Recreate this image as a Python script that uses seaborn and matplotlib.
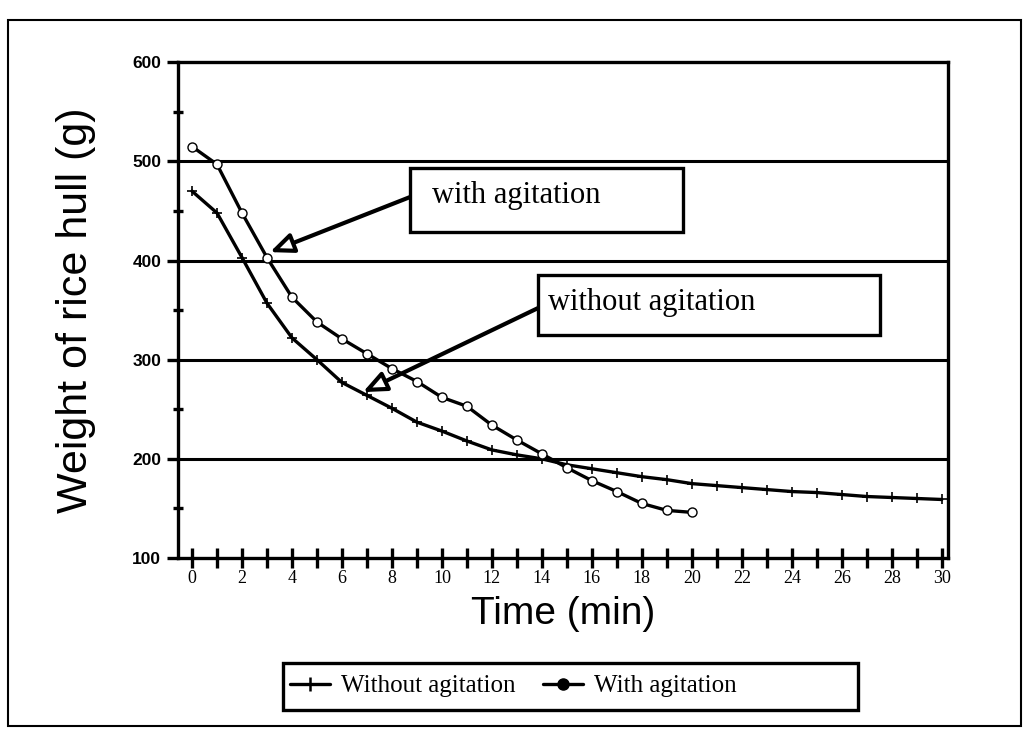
import numpy as np
import pandas as pd
import seaborn as sns
import matplotlib.pyplot as plt
from matplotlib.lines import Line2D
from matplotlib.patches import Rectangle

# values
time_without = list(range(0, 31))
weight_without = [470, 448, 403, 357, 322, 300, 277, 264, 251, 237, 228, 218,
                  209, 204, 200, 194, 190, 186, 182, 179, 175, 173, 171, 169,
                  167, 166, 164, 162, 161, 160, 159]
time_with = list(range(0, 21))
weight_with = [515, 497, 448, 403, 363, 338, 321, 306, 291, 278, 262, 253,
               234, 219, 205, 191, 178, 167, 155, 148, 146]
series_names = ["Without agitation", "With agitation"]
x_ticks = list(range(0, 31))
y_ticks = [100, 200, 300, 400, 500, 600]

sns.set_style("white")
plt.rcParams.update({"text.color": "black", "axes.labelcolor": "black",
                     "xtick.color": "black", "ytick.color": "black"})
fig = plt.figure(figsize=(10.29, 7.29), dpi=100)
ax = fig.add_axes([0.173, 0.2346, 0.748, 0.680])

for ylev in [200, 300, 400, 500]:
    ax.axhline(ylev, color="black", lw=2.2, zorder=1)

sns.lineplot(x=time_without, y=weight_without, color="black", marker="+",
             lw=2.4, markersize=7, markeredgewidth=1.2, markeredgecolor="black",
             ax=ax, zorder=3)
sns.lineplot(x=time_with, y=weight_with, color="black", marker="o",
             lw=2.4, markersize=6.5, markeredgewidth=1.0, markerfacecolor="white",
             markeredgecolor="black", ax=ax, zorder=3)

ax.set_xlim(-0.56, 30.24)
ax.set_ylim(100, 600)
for s in ax.spines.values():
    s.set_color("black")
    s.set_linewidth(2.4)

ax.set_xticks(x_ticks)
ax.set_xticklabels([str(t) if t % 2 == 0 else "" for t in x_ticks],
                   family="Liberation Serif", fontsize=13)
ax.set_yticks(y_ticks)
ax.set_yticklabels([str(t) for t in y_ticks], family="Liberation Sans",
                   fontsize=12.5, fontweight="bold")
ax.set_yticks([150, 250, 350, 450, 550], minor=True)
ax.tick_params(axis="x", which="major", direction="inout", length=14, width=2.4,
               colors="black", pad=2, bottom=True)
ax.tick_params(axis="y", which="major", direction="out", length=8, width=2.4,
               colors="black", pad=4, left=True)
ax.tick_params(axis="y", which="minor", direction="inout", length=7, width=2.4,
               colors="black", left=True)

ax.set_xlabel("Time (min)", family="Liberation Sans", fontsize=28, labelpad=6)
ax.set_ylabel("Weight of rice hull (g)", family="Liberation Sans", fontsize=31, labelpad=26)

# callout boxes with arrows
boxes = [
    ("with agitation", (8.72, 428.6), 10.92, 64.5, (9.6, 466), (8.72, 464), (3.12, 408.5)),
    ("without agitation", (13.84, 324.8), 13.68, 60.5, (14.24, 358), (13.84, 352), (6.84, 267.3)),
]
for label, xy, w, h, txy, start, tip in boxes:
    ax.add_patch(Rectangle(xy, w, h, fill=True, fc="white", ec="black", lw=2.4,
                           zorder=5, clip_on=False))
    ax.text(txy[0], txy[1], label, family="Liberation Serif", fontsize=22,
            color="black", va="center", ha="left", zorder=6)
    ax.annotate("", xy=tip, xytext=start, zorder=4,
                arrowprops=dict(arrowstyle="-|>,head_length=1.4,head_width=0.6",
                                fc="white", ec="black", lw=3, shrinkA=0, shrinkB=0))

# legend below the plot, in a wide box
handles = [
    Line2D([], [], color="black", lw=2.4, marker="+", markersize=10, markeredgewidth=1.8),
    Line2D([], [], color="black", lw=2.4, marker="o", markersize=8, markerfacecolor="black"),
]
leg = fig.legend(handles, series_names, loc="center left",
                 bbox_to_anchor=(287 / 1029, 1 - 686 / 729),
                 ncol=2, frameon=False, handlelength=1.6,
                 handletextpad=0.45, columnspacing=1.1, borderpad=0.1,
                 borderaxespad=0, prop={"family": "Liberation Serif", "size": 18})
for t in leg.get_texts():
    t.set_color("black")
fig.patches.append(Rectangle((283 / 1029, 1 - 710 / 729), 575 / 1029, 47 / 729,
                             transform=fig.transFigure, fill=False, ec="black", lw=2.4))

fig.patches.append(Rectangle((8 / 1029, 3 / 729), 1013 / 1029, 706 / 729,
                             transform=fig.transFigure, fill=False, ec="black", lw=1.5))

fig.savefig("out.png", dpi=100)
